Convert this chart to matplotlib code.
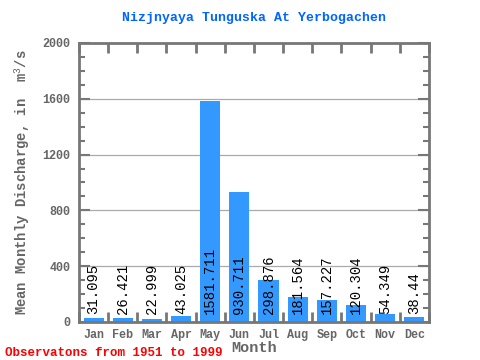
import matplotlib.pyplot as plt
import numpy as np

months = ['Jan', 'Feb', 'Mar', 'Apr', 'May', 'Jun', 'Jul', 'Aug', 'Sep', 'Oct', 'Nov', 'Dec']
discharge = [31.095, 26.421, 22.999, 43.025, 1581.711, 930.711, 298.876, 181.564, 157.227, 120.304, 54.349, 38.44]
labels = ['31.095', '26.421', '22.999', '43.025', '1581.711', '930.711', '298.876',
          '181.564', '157.227', '120.304', '54.349', '38.44']

mono = 'Liberation Mono'
frame = '#777777'
plt.rcParams['mathtext.fontset'] = 'custom'
plt.rcParams['mathtext.rm'] = mono

fig = plt.figure(figsize=(4.8, 3.6), dpi=100)
ax = fig.add_axes([0.1646, 0.1056, 0.729, 0.775])

x = np.arange(len(months))
ax.bar(x, discharge, width=0.69, color='#3399ff', zorder=2)
for xi, lab in zip(x, labels):
    ax.text(xi, 60, lab, rotation=90, ha='center', va='bottom',
            fontsize=10, family=mono, color='black', zorder=3)

ax.set_xlim(-0.5, 11.5)
ax.set_ylim(0, 2000)

# grid only on the inner major levels
for y in [400, 800, 1200, 1600]:
    ax.axhline(y, color='#aaaaaa', lw=0.9, zorder=1)

ax.set_xticks(x)
ax.set_xticklabels(months)
ax.set_xticks(np.arange(-0.5, 12, 1), minor=True)
ax.tick_params(axis='x', which='major', length=0, pad=5)
ax.tick_params(axis='x', which='minor', direction='in', length=7, width=2,
               color=frame, top=True, bottom=True)

ax.set_yticks([0, 400, 800, 1200, 1600, 2000])
ax.set_yticks(np.arange(0, 2001, 100), minor=True)
ax.tick_params(axis='y', which='major', direction='in', length=8, width=1.5,
               color=frame, left=True, right=True, pad=6)
ax.tick_params(axis='y', which='minor', direction='in', length=4, width=1.5,
               color=frame, left=True, right=True)

for lab in ax.get_xticklabels() + ax.get_yticklabels():
    lab.set_family(mono)
    lab.set_fontweight('bold')
    lab.set_color('#666666')
    lab.set_fontsize(8.5)

for s in ax.spines.values():
    s.set_color(frame)
    s.set_linewidth(2)

ax.set_title('Nizjnyaya Tunguska At Yerbogachen', family=mono, fontweight='bold',
             color='#0066ff', fontsize=9.5, pad=16)
ax.set_xlabel('Month', family=mono, fontweight='bold', color='#666666', fontsize=11, labelpad=0)
ax.set_ylabel('Mean Monthly Discharge, in  m$^{3}$/s', family=mono, fontweight='bold',
              color='#666666', fontsize=10, labelpad=8)

fig.text(0.01, 0.01, 'Observatons from 1951 to 1999', family=mono, fontweight='bold',
         color='red', fontsize=9)

plt.savefig('out.png', dpi=100)
